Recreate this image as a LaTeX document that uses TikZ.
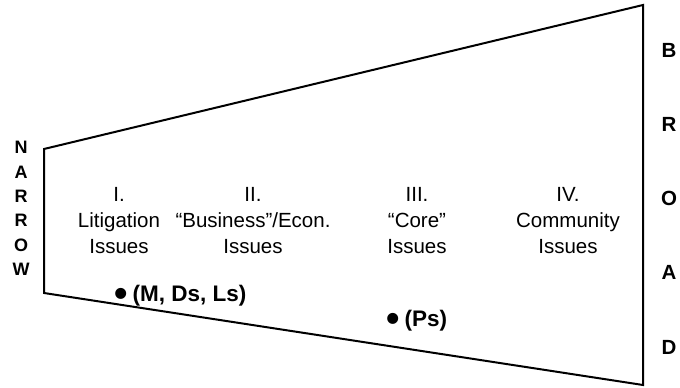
\documentclass[tikz,border=0pt]{standalone}
\usepackage{fontspec}
\setmainfont{Liberation Sans}
\newcommand{\bigbul}{\raisebox{-4.5pt}{\scalebox{1.7}{•}}\hspace{5pt}}
\begin{document}
\begin{tikzpicture}[x=1pt,y=1pt,
  edge/.style={line width=2pt, line join=miter},
  issue/.style={align=center, inner sep=0pt, font=\fontsize{20.5}{26}\selectfont},
  party/.style={anchor=base west, inner sep=0pt, font=\fontsize{22.5}{24}\selectfont\bfseries},
  sidelabel/.style={align=center, inner sep=0pt}]
\useasboundingbox (0,0) rectangle (680,388);
\coordinate (tl) at (44,239);
\coordinate (tr) at (643,383);
\coordinate (br) at (643,3);
\coordinate (bl) at (44,95);
\draw[edge] (tl) -- (tr) -- (br) -- (bl) -- cycle;
\node[sidelabel, font=\fontsize{18}{24.4}\selectfont\bfseries] (narrow) at (21,179.5) {N\\A\\R\\R\\O\\W};
\node[sidelabel, font=\fontsize{20.5}{74.25}\selectfont\bfseries] (broad) at (669,189.5) {B\\R\\O\\A\\D};
\node[issue] (i1) at (119,167) {I.\\Litigation\\Issues};
\node[issue] (i2) at (253,167) {II.\\“Business”/Econ.\\Issues};
\node[issue] (i3) at (417,167) {III.\\“Core”\\Issues};
\node[issue] (i4) at (568,167) {IV.\\Community\\Issues};
\node[party] (p1) at (114,86) {\bigbul(M, Ds, Ls)};
\node[party] (p2) at (386,61) {\bigbul(Ps)};
\end{tikzpicture}
\end{document}
